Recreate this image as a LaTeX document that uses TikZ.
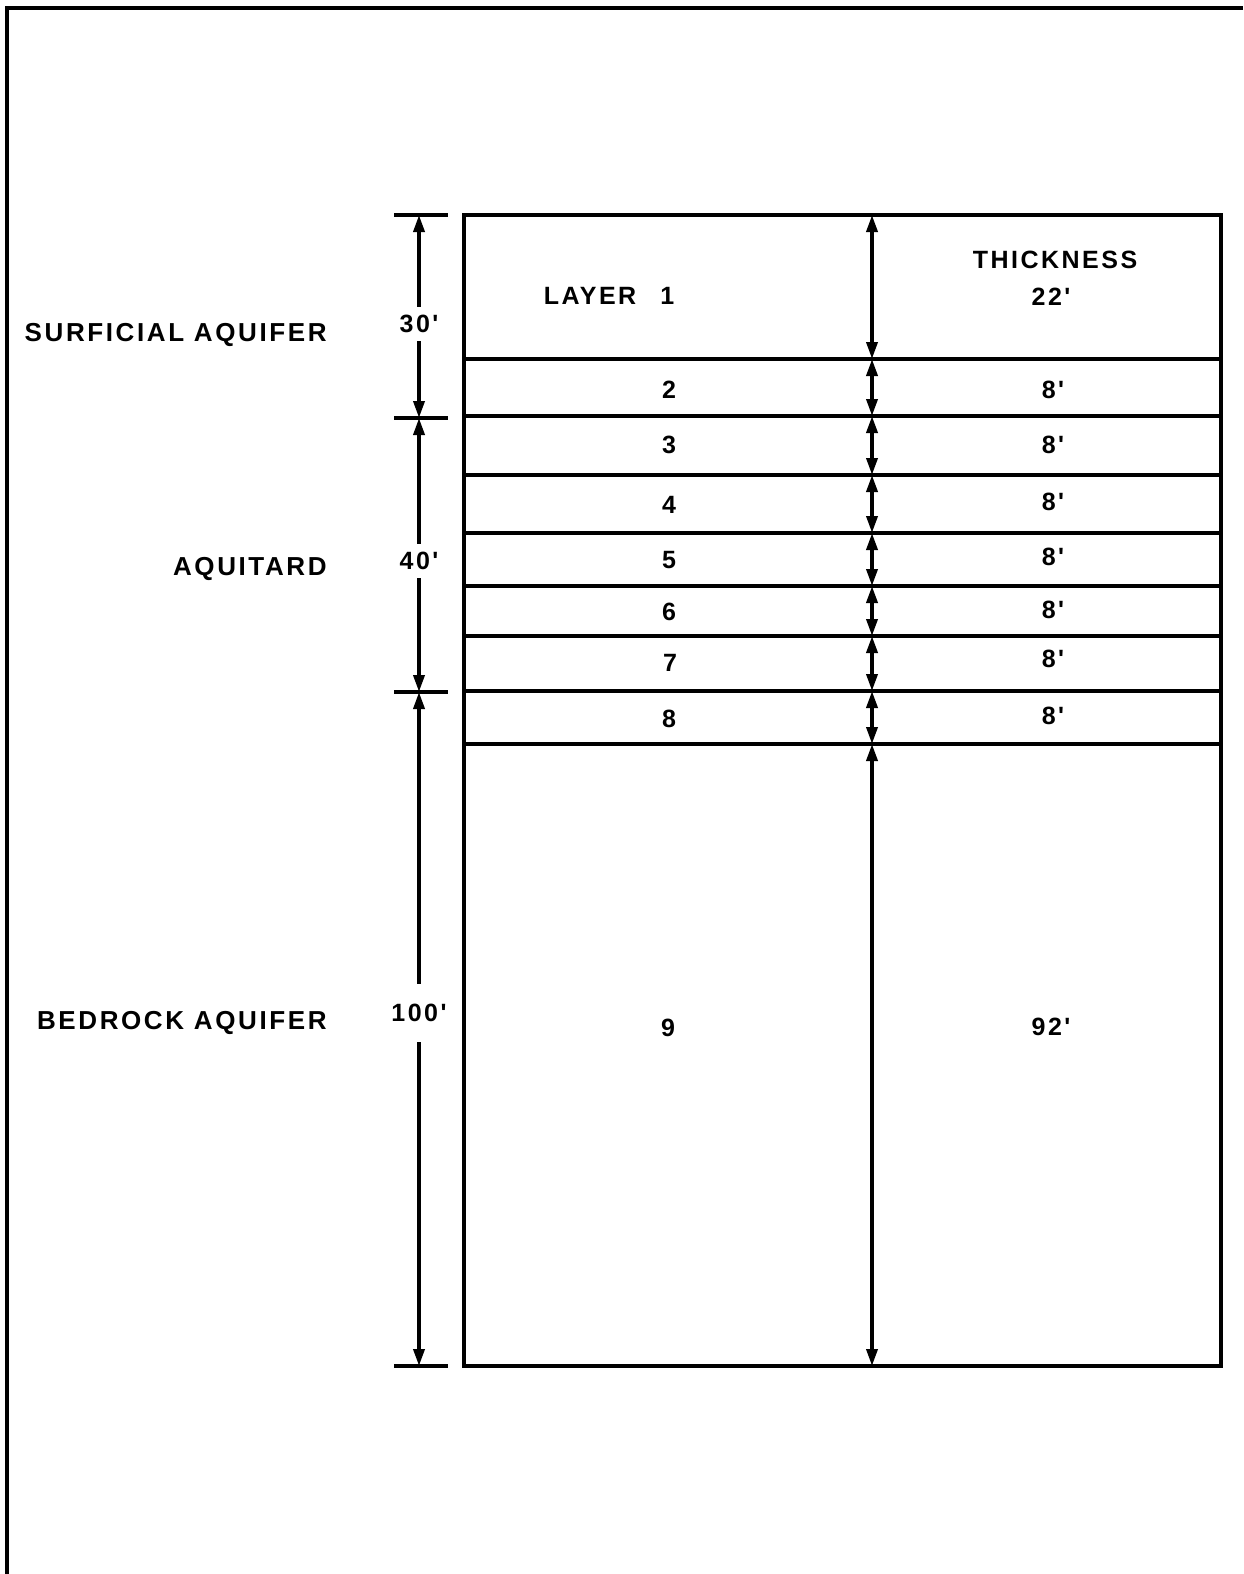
\documentclass[tikz,border=0pt]{standalone}
\usepackage{fontspec}
\newfontfamily\strataface{Liberation Sans}[LetterSpace=10]
\usetikzlibrary{arrows.meta}

\begin{document}
\begin{tikzpicture}[x=0.5pt, y=-0.5pt, >={Triangle[length=8.5pt,width=5.5pt]},
                    rule/.style={line width=1.8pt},
                    every node/.style={font=\strataface\bfseries\fontsize{12.5}{14}\selectfont,
                                       inner sep=0pt},
                    unitlabel/.style={font=\strataface\bfseries\fontsize{13}{15}\selectfont,
                                      anchor=east},
                    dimlabel/.style={inner ysep=4pt, inner xsep=0pt}]

\useasboundingbox (0,0) rectangle (1243,1574);

%% ==== frame round the sheet ==========================================
\draw[line width=1.6pt] (1243,8) -- (7,8) -- (7,1574);

%% ==== layer boundaries: left edge, middle arrow column, right edge ===
\foreach \n/\y in {0/215, 1/359, 2/416, 3/475, 4/533, 5/586, 6/636, 7/691, 8/744, 9/1366} {
  \coordinate (L\n) at (464,\y);
  \coordinate (M\n) at (872,\y);
  \coordinate (R\n) at (1221,\y);
}

%% the column of layers
\draw[rule] (L0) rectangle (R9);
\foreach \n in {1,...,8}
  \draw[rule] (L\n) -- (R\n);

%% thickness arrows between boundaries
\foreach \n [remember=\n as \last (initially 0)] in {1,...,9}
  \draw[rule, <->] (M\last) -- (M\n);

%% layer numbers
\node (lay1) at (609,296) {LAYER\hspace{12pt}1};
\node (lay2) at (669,390) {2};
\node (lay3) at (669,445) {3};
\node (lay4) at (669,505) {4};
\node (lay5) at (669,560) {5};
\node (lay6) at (669,612) {6};
\node (lay7) at (670,663) {7};
\node (lay8) at (669,719) {8};
\node (lay9) at (668,1028) {9};

%% thicknesses
\node (thk)  at (1055,260) {THICKNESS};
\node (thk1) at (1051,297) {22'};
\node (thk2) at (1053,390) {8'};
\node (thk3) at (1053,445) {8'};
\node (thk4) at (1053,502) {8'};
\node (thk5) at (1053,557) {8'};
\node (thk6) at (1053,610) {8'};
\node (thk7) at (1053,659) {8'};
\node (thk8) at (1053,716) {8'};
\node (thk9) at (1051,1027) {92'};

%% ==== hydrogeologic units on the left ================================
\foreach \y in {215,418,692,1366}
  \draw[rule] (394,\y) -- (448,\y);
\coordinate (t0) at (419,215);
\coordinate (t1) at (419,418);
\coordinate (t2) at (419,692);
\coordinate (t3) at (419,1366);

\node[dimlabel] (d30)  at (419,324)  {30'};
\node[dimlabel] (d40)  at (419,561)  {40'};
\node[dimlabel, inner ysep=10pt] (d100) at (419,1013) {100'};

\draw[rule, ->] (d30)  -- (t0);
\draw[rule, ->] (d30)  -- (t1);
\draw[rule, ->] (d40)  -- (t1);
\draw[rule, ->] (d40)  -- (t2);
\draw[rule, ->] (d100) -- (t2);
\draw[rule, ->] (d100) -- (t3);

\node[unitlabel] (surf) at (327,335)  {SURFICIAL AQUIFER};
\node[unitlabel] (tard) at (327,569)  {AQUITARD};
\node[unitlabel] (bed)  at (327,1023) {BEDROCK AQUIFER};

\end{tikzpicture}
\end{document}
